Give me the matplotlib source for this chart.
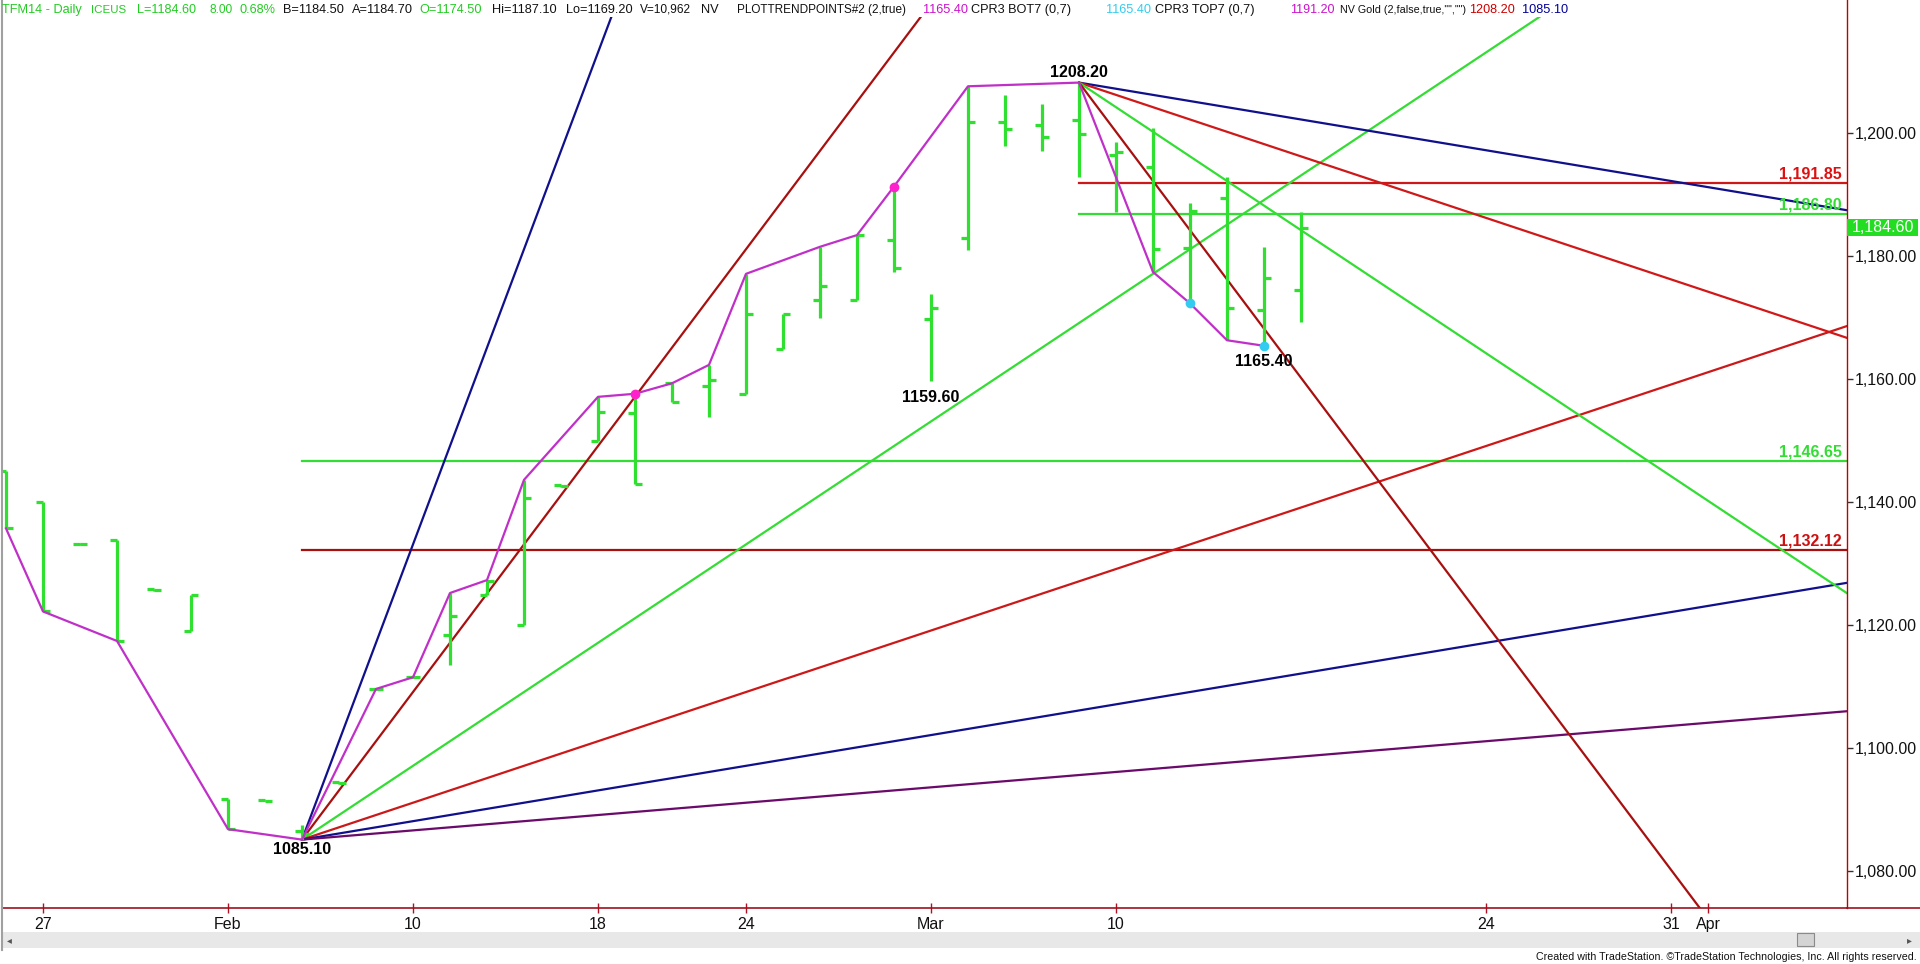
import matplotlib
matplotlib.use('Agg')
import matplotlib.pyplot as plt
from matplotlib.patches import Rectangle
from matplotlib.lines import Line2D

plt.rcParams['font.family'] = ['Liberation Sans', 'DejaVu Sans']

# ---------------- data ----------------
bar_idx = list(range(-1, 35))  # trading-day index, 0 = Jan 27
opens = [1145.0, 1140.0, 1133.2, 1133.8, 1125.8, 1119.0, 1091.7, 1091.5, 1086.5, 1094.4, 1109.6, 1111.6,
         1118.4, 1124.9, 1120.0, 1142.7, 1150.0, 1154.4, 1159.3, 1158.9, 1157.6, 1164.9, 1172.8, 1172.8,
         1182.6, 1169.7, 1182.9, 1201.8, 1201.3, 1202.1, 1196.5, 1194.4, 1181.3, 1189.4, 1171.2, 1174.5]
highs = [1145.0, 1140.0, 1133.3, 1133.8, 1125.9, 1124.9, 1091.7, 1091.6, 1087.5, 1094.5, 1109.7, 1111.7,
         1125.2, 1127.3, 1143.6, 1142.8, 1157.1, 1157.6, 1159.3, 1162.3, 1177.1, 1170.6, 1181.5, 1183.4,
         1191.3, 1173.9, 1207.6, 1206.2, 1204.7, 1208.2, 1198.6, 1200.8, 1188.7, 1192.8, 1181.5, 1187.1]
lows = [1135.7, 1122.2, 1133.0, 1117.4, 1125.6, 1119.0, 1086.8, 1091.3, 1085.1, 1094.2, 1109.5, 1111.4,
        1113.5, 1124.9, 1120.0, 1142.5, 1150.0, 1143.0, 1156.2, 1153.8, 1157.6, 1164.9, 1169.9, 1172.8,
        1177.4, 1159.6, 1180.9, 1197.9, 1197.0, 1192.8, 1187.1, 1177.4, 1172.3, 1166.3, 1165.4, 1169.2]
closes = [1135.7, 1122.2, 1133.1, 1117.4, 1125.7, 1124.9, 1086.8, 1091.4, 1086.0, 1094.3, 1109.6, 1111.5,
          1121.4, 1127.2, 1140.6, 1142.6, 1154.7, 1143.0, 1156.2, 1159.8, 1170.6, 1170.6, 1175.1, 1183.4,
          1178.0, 1171.5, 1201.8, 1200.6, 1199.3, 1199.8, 1196.9, 1181.1, 1187.4, 1171.5, 1176.5, 1184.6]

zz_idx = [-1, 0, 2, 5, 7, 9, 10, 11, 12, 13, 15, 16, 17, 18, 19, 21, 22, 23, 25, 28, 30, 31, 32, 33]
zz_val = [1135.7, 1122.2, 1117.4, 1086.8, 1085.1, 1109.6, 1111.5, 1125.2, 1127.3, 1143.6, 1157.1, 1157.6,
          1159.3, 1162.3, 1177.1, 1181.5, 1183.4, 1191.3, 1207.6, 1208.2, 1177.4, 1172.3, 1166.3, 1165.4]

magenta_dot_idx = [16, 23]
magenta_dot_val = [1157.6, 1191.3]
cyan_dot_idx = [31, 33]
cyan_dot_val = [1172.3, 1165.4]

low_anchor_idx, low_anchor_val = 7, 1085.10
high_anchor_idx, high_anchor_val = 28, 1208.20
low_fan_slopes = [16, 8, 4, 2, 1, 0.5]
low_fan_colors = ['#10108C', '#A81010', '#33DD33', '#CC1818', '#10108C', '#6A0A6A']
high_fan_slopes = [-1, -2, -4, -8]
high_fan_colors = ['#10108C', '#D01818', '#33DD33', '#A81010']

levels_from_high = [1191.85, 1186.80]
levels_from_high_colors = ['#CC1818', '#33DD33']
levels_from_low = [1146.65, 1132.12]
levels_from_low_colors = ['#33DD33', '#A81010']
level_label_colors = {1191.85: '#DD1111', 1186.80: '#33DD33', 1146.65: '#33DD33', 1132.12: '#CC1111'}

swing_labels = [(28, 1208.20, 10.5), (7, 1085.10, -9.5), (24, 1159.60, -16.5), (33, 1165.40, -16)]

xtick_pos = [0, 5, 10, 15, 19, 24, 29, 39, 44, 45]
xtick_lab = ['27', 'Feb', '10', '18', '24', 'Mar', '10', '24', '31', 'Apr']
ytick_vals = [1080, 1100, 1120, 1140, 1160, 1180, 1200]

# ---------------- figure ----------------
W, H = 1920, 964
fig = plt.figure(figsize=(W / 100, H / 100), dpi=100)
fig.patch.set_facecolor('white')
ax = fig.add_axes([2 / W, (H - 908) / H, (1847 - 2) / W, 908 / H])
ax.set_xlim(-1.108, 48.757)
ax.set_ylim(1073.98, 1221.63)

line_w = 1.6
# horizontal levels
xr = 49.5
for lv, c in zip(levels_from_high, levels_from_high_colors):
    ax.plot([high_anchor_idx, xr], [lv, lv], color=c, lw=line_w, zorder=2)
for lv, c in zip(levels_from_low, levels_from_low_colors):
    ax.plot([low_anchor_idx, xr], [lv, lv], color=c, lw=line_w, zorder=2)

# fan lines
for s, c in zip(low_fan_slopes, low_fan_colors):
    ax.plot([low_anchor_idx, xr], [low_anchor_val, low_anchor_val + s * (xr - low_anchor_idx)],
            color=c, lw=line_w, zorder=2)
for s, c in zip(high_fan_slopes, high_fan_colors):
    ax.plot([high_anchor_idx, xr], [high_anchor_val, high_anchor_val + s * (xr - high_anchor_idx)],
            color=c, lw=line_w, zorder=2)

# OHLC bars
tw = 0.19
bar_c = '#30E030'
for i, o, h, l, c in zip(bar_idx, opens, highs, lows, closes):
    ax.plot([i, i], [l, h], color=bar_c, lw=2.3, solid_capstyle='butt', zorder=3)
    ax.plot([i - tw, i], [o, o], color=bar_c, lw=2.3, solid_capstyle='butt', zorder=3)
    ax.plot([i, i + tw], [c, c], color=bar_c, lw=2.3, solid_capstyle='butt', zorder=3)

# zigzag
ax.plot(zz_idx, zz_val, color='#C030C8', lw=1.6, zorder=4)
ax.plot(magenta_dot_idx, magenta_dot_val, 'o', color='#FF22CC', ms=6, zorder=5)
ax.plot(cyan_dot_idx, cyan_dot_val, 'o', color='#33CCF0', ms=6, zorder=5)

# swing labels
for i, v, off in swing_labels:
    ax.annotate(f"{v:.2f}", xy=(i, v), xytext=(0, off), textcoords='offset pixels',
                ha='center', va='center', fontsize=11.5, fontweight='bold', color='black', zorder=6)

# level labels
for lv in levels_from_high + levels_from_low:
    ax.annotate(f"{lv:,.2f}", xy=(1.0, lv), xycoords=ax.get_yaxis_transform(),
                xytext=(-5, 5), textcoords='offset pixels', ha='right', va='baseline',
                fontsize=11.5, fontweight='bold', color=level_label_colors[lv], zorder=6)

# white band behind the header row (lines stop below it)
ax.add_patch(Rectangle((4 / W, 1 - 17 / H), 1568 / W, 17 / H, transform=fig.transFigure,
                       facecolor='white', edgecolor='none', zorder=6.5, clip_on=False))

# axes styling
ax.spines['top'].set_visible(False)
ax.spines['left'].set_color('#A0A0A0')
ax.spines['left'].set_linewidth(1.5)
ax.spines['left'].set_zorder(7)
ax.spines['right'].set_color('#C00000')
ax.spines['right'].set_linewidth(1.0)
ax.spines['bottom'].set_color('#A01020')
ax.spines['bottom'].set_linewidth(1.2)

ax.yaxis.tick_right()
ax.set_yticks(ytick_vals)
ax.set_yticklabels([f"{v:,.2f}" for v in ytick_vals])
ax.tick_params(axis='y', labelsize=11.5, length=4, width=1, color='#333333', pad=1.5, labelcolor='#111111')
ax.set_xticks(xtick_pos)
ax.set_xticklabels(xtick_lab)
ax.tick_params(axis='x', labelsize=11.5, length=7, width=1, color='#B01020', direction='inout',
               pad=3, labelcolor='#111111')

# current price marker
last = closes[-1]
ax.add_patch(Rectangle((1.0, last - 1.35), 71 / 1845, 2.7, transform=ax.get_yaxis_transform(),
                       facecolor='#22DD22', edgecolor='none', clip_on=False, zorder=7))
ax.text(1.0 + 36 / 1845, last, f"{last:,.2f}", transform=ax.get_yaxis_transform(), ha='center',
        va='center', fontsize=11.5, color='white', zorder=8, clip_on=False)

# extended bottom line, left border, scrollbar
fig.add_artist(Line2D([1847 / W, 1.0], [(H - 908) / H] * 2, color='#A01020', lw=1.2,
                      transform=fig.transFigure))
fig.add_artist(Line2D([2 / W, 2 / W], [(H - 950) / H, (H - 908) / H], color='#A0A0A0', lw=1.5,
                      transform=fig.transFigure))
fig.add_artist(Rectangle((3 / W, (H - 948) / H), 1 - 3 / W, 16 / H, transform=fig.transFigure,
                         facecolor='#E8E8E8', edgecolor='none'))
fig.add_artist(Rectangle((1797 / W, (H - 946) / H), 17 / W, 13 / H, transform=fig.transFigure,
                         facecolor='#D4D4D4', edgecolor='#8A8A8A', lw=0.8))
fig.text(9 / W, 1 - 940 / H, '◂', fontsize=7, color='#555555', ha='center', va='center',
         family=['DejaVu Sans'])
fig.text(1909 / W, 1 - 940 / H, '▸', fontsize=7, color='#555555', ha='center', va='center',
         family=['DejaVu Sans'])

fig.text(1917 / W, 1 - 957 / H,
         "Created with TradeStation. \u00a9TradeStation Technologies, Inc. All rights reserved.",
         ha='right', va='center', fontsize=7.7, color='#111111')

# header (start, end pixel extents)
G, K, M, C, R, B = '#22CC22', '#111111', '#CC11CC', '#33CCEE', '#CC0000', '#000099'
header = [
    (2.5, 84, "TFM14 - Daily", G), (91, 126, "ICEUS", G), (137, 196, f"L={closes[-1]:.2f}", G),
    (209, 232, "8.00", G), (240, 278, "0.68%", G), (283, 347, "B=1184.50", K),
    (352, 416, "A=1184.70", K), (419, 485, f"O={opens[-1]:.2f}", G),
    (492, 559, f"Hi={highs[-1]:.2f}", K), (566, 633, f"Lo={lows[-1]:.2f}", K),
    (640, 691, "V=10,962", K), (701, 724, "NV", K),
    (737, 907, "PLOTTRENDPOINTS#2 (2,true)", K), (923, 969, "1165.40", M),
    (971, 1094, "CPR3 BOT7 (0,7)", K), (1106, 1152, "1165.40", C), (1155, 1277, "CPR3 TOP7 (0,7)", K),
    (1290, 1334, "1191.20", M), (1340, 1465, 'NV Gold (2,false,true,"","")', K),
    (1469, 1515, f"{high_anchor_val:.2f}", R), (1522, 1568, f"{low_anchor_val:.2f}", B),
]
renderer = fig.canvas.get_renderer()
for x0, x1, s, c in header:
    t = fig.text(x0 / W, 1 - 10 / H, s, color=c, fontsize=10, ha='left', va='center')
    wpx = t.get_window_extent(renderer).width
    t.set_fontsize(max(7.6, min(9.2, 10 * (x1 - x0) / wpx)))

fig.savefig('out.png', dpi=100, facecolor='white')
